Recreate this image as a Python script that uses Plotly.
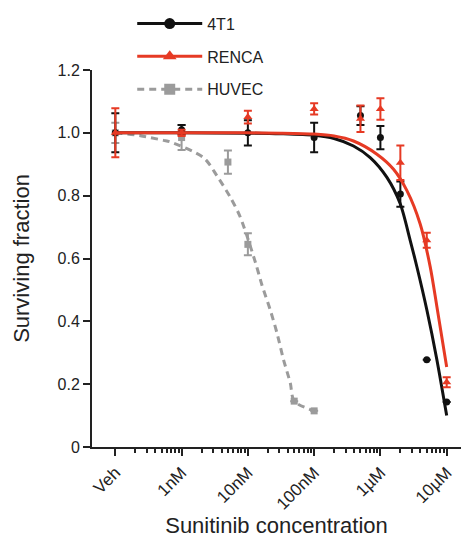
import numpy as np
import plotly.graph_objects as go

# ---------------- data ----------------
tick_labels = ["Veh", "1nM", "10nM", "100nM", "1µM", "10µM"]
tick_conc_nM = [0.1, 1, 10, 100, 1000, 10000]   # Veh drawn at 0.1 nM position

y_tick_vals = [0, 0.2, 0.4, 0.6, 0.8, 1.0, 1.2]
y_tick_text = ["0", "0.2", "0.4", "0.6", "0.8", "1.0", "1.2"]

conc_4t1_nM = [0.1, 1, 10, 100, 500, 1000, 2000, 5000, 10000]
mean_4t1 = [1.0, 1.01, 1.0, 0.985, 1.055, 0.985, 0.805, 0.278, 0.143]
err_4t1 = [0.062, 0.015, 0.04, 0.047, 0.03, 0.037, 0.04, 0.0, 0.0]

conc_renca_nM = [0.1, 1, 10, 100, 500, 1000, 2000, 5000, 10000]
mean_renca = [1.0, 1.0, 1.05, 1.076, 1.045, 1.076, 0.905, 0.658, 0.206]
err_renca = [0.078, 0.01, 0.02, 0.018, 0.042, 0.034, 0.055, 0.024, 0.016]

conc_huvec_nM = [0.1, 1, 5, 10, 50, 100]
mean_huvec = [1.0, 0.985, 0.907, 0.645, 0.146, 0.115]
err_huvec = [0.032, 0.04, 0.037, 0.035, 0.0, 0.0]

# fitted curves (x as log10 of nM)
fit_4t1_log_nM = [-1, 0, 1, 1.5, 2, 2.3, 2.594, 2.846, 3.098, 3.299, 3.449, 3.551, 3.701, 3.852, 4.0]
fit_4t1_y = [1.0, 1.0, 0.999, 0.997, 0.992, 0.982, 0.958, 0.921, 0.858, 0.774, 0.658, 0.573, 0.436, 0.278, 0.10]

fit_renca_log_nM = [-1, 0, 1, 1.5, 2, 2.3, 2.594, 2.947, 3.198, 3.4, 3.6, 3.75, 3.85, 4.0]
fit_renca_y = [1.0, 1.0, 1.0, 0.999, 0.996, 0.99, 0.974, 0.932, 0.884, 0.816, 0.71, 0.575, 0.45, 0.255]

fit_huvec_log_nM = [-1, -0.623, -0.271, -0.17, 0.332, 0.534, 0.735, 0.885, 1.112, 1.213, 1.338,
                    1.439, 1.538, 1.640, 1.699, 2.0]
fit_huvec_y = [1.0, 0.991, 0.976, 0.971, 0.921, 0.863, 0.795, 0.732, 0.589, 0.515, 0.436,
               0.363, 0.278, 0.204, 0.146, 0.115]

# ---------------- styles ----------------
BLACK = "#111111"
RED = "#e63a24"
GRAY = "#9b9b9b"
FONT = "Liberation Sans, Arial, sans-serif"

fig = go.Figure()

def add_series(name, conc, mean, err, fit_x, fit_y, color, symbol, msize, dash, group, rank):
    fig.add_trace(go.Scatter(
        x=np.log10(conc), y=mean, mode="markers",
        marker=dict(color=color, symbol=symbol, size=msize),
        error_y=dict(type="data", array=err, visible=True, thickness=2, width=4, color=color),
        showlegend=False, cliponaxis=False, hoverinfo="skip"))
    fig.add_trace(go.Scatter(
        x=fit_x, y=fit_y, mode="lines",
        line=dict(color=color, width=3, dash=dash, shape="spline", smoothing=0.8),
        showlegend=False, cliponaxis=False, hoverinfo="skip"))
    fig.add_trace(go.Scatter(
        x=[None], y=[None], mode="lines+markers", name=name, legendgroup=group,
        legendrank=rank,
        marker=dict(color=color, symbol=symbol, size=msize + 4),
        line=dict(color=color, width=3, dash=dash)))

add_series("HUVEC", conc_huvec_nM, mean_huvec, err_huvec, fit_huvec_log_nM, fit_huvec_y,
           GRAY, "square", 7, "7px,5px", "c", 3)
add_series("4T1", conc_4t1_nM, mean_4t1, err_4t1, fit_4t1_log_nM, fit_4t1_y,
           BLACK, "circle", 7, "solid", "a", 1)
add_series("RENCA", conc_renca_nM, mean_renca, err_renca, fit_renca_log_nM, fit_renca_y,
           RED, "triangle-up", 8, "solid", "b", 2)

major = np.log10(tick_conc_nM)
minor_vals = [m + np.log10(k) for m in major[:-1] for k in range(2, 10)]

fig.update_layout(
    width=461, height=543,
    margin=dict(l=92, r=0, t=70, b=96),
    paper_bgcolor="white", plot_bgcolor="white",
    font=dict(family=FONT, size=16, color="#222222"),
    legend=dict(x=0.109, y=1.168, xanchor="left", yanchor="top",
                itemwidth=65, font=dict(size=16, color="#222222"),
                traceorder="grouped", tracegroupgap=9,
                bgcolor="rgba(0,0,0,0)"),
    xaxis=dict(range=[-1.352, 4.216], showgrid=False, zeroline=False, automargin=False,
               showline=True, linecolor="#222222", linewidth=2,
               tickmode="array", tickvals=list(major), ticktext=tick_labels,
               ticks="outside", ticklen=7, tickwidth=2, tickcolor="#222222",
               tickangle=-45, tickfont=dict(size=17),
               minor=dict(tickmode="array", tickvals=minor_vals, ticks="outside",
                          ticklen=4, tickwidth=1.5, tickcolor="#222222"),
               title=dict(text="Sunitinib concentration", font=dict(size=22), standoff=0)),
    yaxis=dict(range=[0, 1.2], showgrid=False, zeroline=False, automargin=False,
               showline=True, linecolor="#222222", linewidth=2,
               tickmode="array", tickvals=y_tick_vals, ticktext=y_tick_text,
               ticks="outside", ticklen=7, tickwidth=2, tickcolor="#222222",
               tickfont=dict(size=16),
               title=dict(text="Surviving fraction", font=dict(size=22), standoff=22)),
)

fig.write_html("out.html",
               config={"displayModeBar": False},
               post_script="document.body.style.margin='0';document.body.style.overflow='hidden';")
